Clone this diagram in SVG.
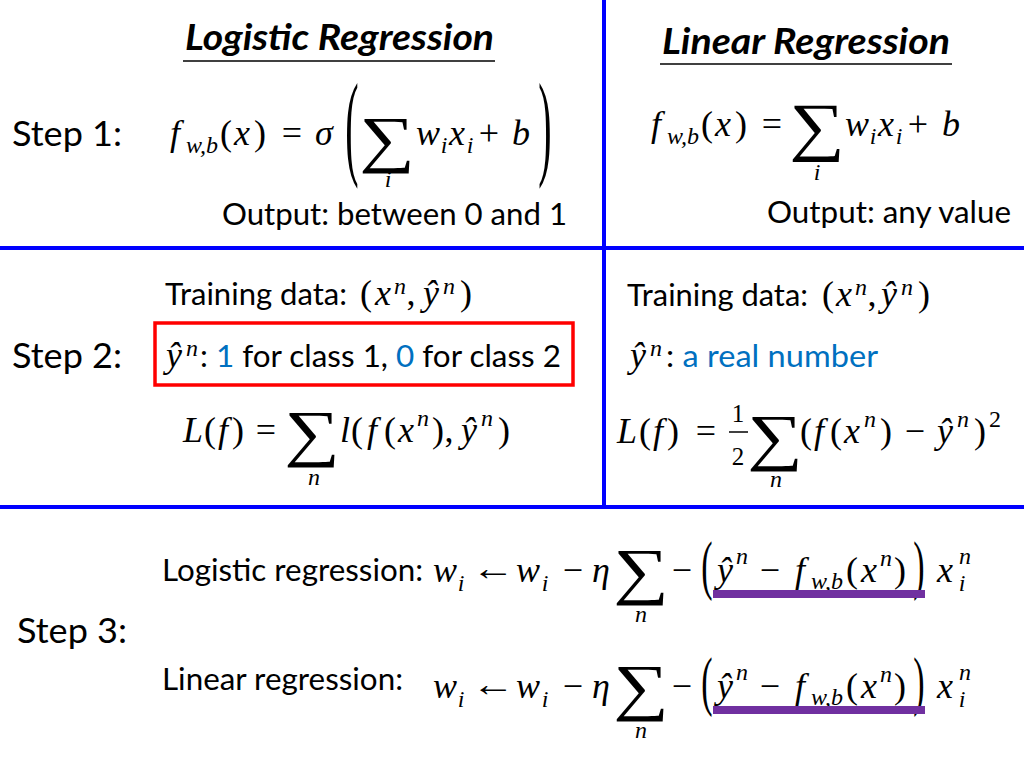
<svg xmlns="http://www.w3.org/2000/svg" width="1024" height="768" viewBox="0 0 1024 768">
<style>
.txt{font-family:Lato,"Liberation Sans",sans-serif;font-size:30px;fill:#000}
.step{font-size:34px}
.title{font-weight:bold;font-style:italic;font-size:36px}
.mi{font-family:"Liberation Serif","DejaVu Serif",serif;font-style:italic;font-size:36px;fill:#000;text-anchor:middle}
.mo{font-family:"Liberation Serif","DejaVu Serif",serif;font-size:36px;fill:#000;text-anchor:middle}
.ar{font-family:"Liberation Sans","DejaVu Sans",sans-serif;font-size:32px;fill:#000;text-anchor:middle}
.sb{font-size:24px}
.fr{font-size:25px}
.sum{font-family:"Liberation Serif","DejaVu Serif",serif;font-size:60px;text-anchor:middle;fill:#000}
.big{font-family:"Liberation Serif","DejaVu Serif",serif;font-size:40px;fill:#000;text-anchor:middle}
.bigs{font-family:"Liberation Serif","DejaVu Serif",serif;font-size:34px;fill:#000;text-anchor:middle}
.blue{fill:#0070C0}
.grid{stroke:#0000FF;stroke-width:4}
.ul{stroke:#000;stroke-width:1.5}
.bar{fill:#7030A0}
</style>
<rect width="1024" height="768" fill="#fff"/>
<g id="grid">
<line class="grid" x1="604" y1="0" x2="604" y2="509"/>
<line class="grid" x1="0" y1="248" x2="1024" y2="248"/>
<line class="grid" x1="0" y1="507" x2="1024" y2="507"/>
</g>
<g id="headers">
<text class="txt title" x="185" y="50" textLength="309" lengthAdjust="spacingAndGlyphs">Logistic Regression</text>
<line class="ul" x1="183" y1="61" x2="495" y2="61"/>
<text class="txt title" x="662" y="54" textLength="288" lengthAdjust="spacingAndGlyphs">Linear Regression</text>
<line class="ul" x1="660" y1="64" x2="952" y2="64"/>
</g>
<g id="steps">
<text class="txt step" x="12" y="146" textLength="110" lengthAdjust="spacingAndGlyphs">Step 1:</text>
<text class="txt step" x="12" y="368" textLength="110" lengthAdjust="spacingAndGlyphs">Step 2:</text>
<text class="txt step" x="17" y="643" textLength="110" lengthAdjust="spacingAndGlyphs">Step 3:</text>
</g>
<g id="step1-logistic">
<text class="mi" x="175" y="145">f</text>
<text class="mi sb" x="202" y="153">w,b</text>
<text class="mo" x="226" y="145">(</text>
<text class="mi" x="242" y="145">x</text>
<text class="mo" x="260" y="145">)</text>
<text class="mo" x="292" y="145">=</text>
<text class="mi" x="324" y="145">σ</text>
<text class="big" transform="translate(352,164) scale(1,2.93)">(</text>
<text class="sum" transform="translate(387,160) scale(1.3,1.05)">∑</text>
<text class="mi sb" x="388" y="187">i</text>
<text class="mi" x="428" y="145">w</text>
<text class="mi sb" x="444" y="153">i</text>
<text class="mi" x="457" y="145">x</text>
<text class="mi sb" x="470" y="153">i</text>
<text class="mo" x="489" y="145">+</text>
<text class="mi" x="521" y="145">b</text>
<text class="big" transform="translate(545,164) scale(1,2.93)">)</text>
<text class="txt" x="222" y="225" textLength="345" lengthAdjust="spacingAndGlyphs">Output: between 0 and 1</text>
</g>
<g id="step1-linear">
<text class="mi" x="656" y="136">f</text>
<text class="mi sb" x="683" y="144">w,b</text>
<text class="mo" x="707" y="136">(</text>
<text class="mi" x="723" y="136">x</text>
<text class="mo" x="741" y="136">)</text>
<text class="mo" x="772" y="136">=</text>
<text class="sum" transform="translate(817,148) scale(1.3,1.08)">∑</text>
<text class="mi sb" x="817" y="180">i</text>
<text class="mi" x="857" y="136">w</text>
<text class="mi sb" x="873" y="144">i</text>
<text class="mi" x="886" y="136">x</text>
<text class="mi sb" x="899" y="144">i</text>
<text class="mo" x="918" y="136">+</text>
<text class="mi" x="951" y="136">b</text>
<text class="txt" x="767" y="223" textLength="244" lengthAdjust="spacingAndGlyphs">Output: any value</text>
</g>
<g id="step2-logistic">
<text class="txt" x="165" y="305" textLength="182" lengthAdjust="spacingAndGlyphs">Training data:</text>
<text class="mo" x="366" y="305">(</text>
<text class="mi" x="383" y="305">x</text>
<text class="mi sb" x="400" y="294">n</text>
<text class="mo" x="411" y="305">,</text>
<text class="mi" x="431" y="305">ŷ</text>
<text class="mi sb" x="449" y="294">n</text>
<text class="mo" x="466" y="305">)</text>
<rect x="155" y="323" width="418" height="62" fill="none" stroke="#FF0000" stroke-width="3.5"/>
<text class="mi" x="174" y="367">ŷ</text>
<text class="mi sb" x="192" y="356">n</text>
<text class="txt" x="200" y="367" textLength="361" lengthAdjust="spacingAndGlyphs">: <tspan class="blue">1</tspan> for class 1, <tspan class="blue">0</tspan> for class 2</text>
<text class="mi" x="193" y="442">L</text>
<text class="mo" x="210" y="442">(</text>
<text class="mi" x="223" y="442">f</text>
<text class="mo" x="238" y="442">)</text>
<text class="mo" x="266" y="442">=</text>
<text class="sum" transform="translate(312,454) scale(1.3,1.05)">∑</text>
<text class="mi sb" x="314" y="485">n</text>
<text class="mi" x="345" y="442">l</text>
<text class="mo" x="357" y="442">(</text>
<text class="mi" x="372" y="442">f</text>
<text class="mo" x="390" y="442">(</text>
<text class="mi" x="406" y="442">x</text>
<text class="mi sb" x="423" y="426">n</text>
<text class="mo" x="438" y="442">)</text>
<text class="mo" x="449" y="442">,</text>
<text class="mi" x="469" y="442">ŷ</text>
<text class="mi sb" x="487" y="426">n</text>
<text class="mo" x="504" y="442">)</text>
</g>
<g id="step2-linear">
<text class="txt" x="627" y="306" textLength="181" lengthAdjust="spacingAndGlyphs">Training data:</text>
<text class="mo" x="828" y="306">(</text>
<text class="mi" x="844" y="306">x</text>
<text class="mi sb" x="861" y="295">n</text>
<text class="mo" x="872" y="306">,</text>
<text class="mi" x="889" y="306">ŷ</text>
<text class="mi sb" x="907" y="295">n</text>
<text class="mo" x="924" y="306">)</text>
<text class="mi" x="638" y="367">ŷ</text>
<text class="mi sb" x="656" y="356">n</text>
<text class="txt" x="666" y="367" textLength="212" lengthAdjust="spacingAndGlyphs">:<tspan class="blue"> a real number</tspan></text>
<text class="mi" x="627" y="443">L</text>
<text class="mo" x="645" y="443">(</text>
<text class="mi" x="658" y="443">f</text>
<text class="mo" x="673" y="443">)</text>
<text class="mo" x="706" y="443">=</text>
<text class="mo fr" x="738" y="422">1</text>
<line class="ul" x1="729" y1="432" x2="748" y2="432"/>
<text class="mo fr" x="738" y="465">2</text>
<text class="sum" transform="translate(775,458) scale(1.3,1.05)">∑</text>
<text class="mi sb" x="776" y="487">n</text>
<text class="mo" x="806" y="443">(</text>
<text class="mi" x="819" y="443">f</text>
<text class="mo" x="836" y="443">(</text>
<text class="mi" x="852" y="443">x</text>
<text class="mi sb" x="870" y="427">n</text>
<text class="mo" x="886" y="443">)</text>
<text class="mo" x="915" y="443">−</text>
<text class="mi" x="945" y="443">ŷ</text>
<text class="mi sb" x="963" y="427">n</text>
<text class="mo" x="980" y="443">)</text>
<text class="mo sb" x="995" y="427">2</text>
</g>
<g id="step3-logistic">
<text class="txt" x="162" y="581" textLength="261" lengthAdjust="spacingAndGlyphs">Logistic regression:</text>
<text class="mi" x="445" y="582">w</text>
<text class="mi sb" x="461" y="591">i</text>
<text class="ar" transform="translate(493,580) scale(1.35,1.1)">←</text>
<text class="mi" x="528" y="582">w</text>
<text class="mi sb" x="545" y="591">i</text>
<text class="mo" x="573" y="582">−</text>
<text class="mi" x="601" y="582">η</text>
<text class="sum" transform="translate(641,592) scale(1.3,1.05)">∑</text>
<text class="mi sb" x="641" y="622">n</text>
<text class="mo" x="682" y="582">−</text>
<text class="bigs" transform="translate(707,587) scale(1,1.9)">(</text>
<text class="mi" x="725" y="582">ŷ</text>
<text class="mi sb" x="742" y="564">n</text>
<text class="mo" x="770" y="582">−</text>
<text class="mi" x="800" y="582">f</text>
<text class="mi sb" x="827" y="589">w,b</text>
<text class="mo" x="852" y="582">(</text>
<text class="mi" x="869" y="582">x</text>
<text class="mi sb" x="886" y="566">n</text>
<text class="mo" x="900" y="582">)</text>
<text class="bigs" transform="translate(919,587) scale(1,1.9)">)</text>
<text class="mi" x="945" y="582">x</text>
<text class="mi sb" x="965" y="564">n</text>
<text class="mi sb" x="962" y="591">i</text>
<rect class="bar" x="713" y="590" width="212" height="8"/>
</g>
<g id="step3-linear">
<text class="txt" x="162" y="690" textLength="241" lengthAdjust="spacingAndGlyphs">Linear regression:</text>
<text class="mi" x="445" y="698">w</text>
<text class="mi sb" x="461" y="707">i</text>
<text class="ar" transform="translate(493,696) scale(1.35,1.1)">←</text>
<text class="mi" x="528" y="698">w</text>
<text class="mi sb" x="545" y="707">i</text>
<text class="mo" x="573" y="698">−</text>
<text class="mi" x="601" y="698">η</text>
<text class="sum" transform="translate(641,708) scale(1.3,1.05)">∑</text>
<text class="mi sb" x="641" y="738">n</text>
<text class="mo" x="682" y="698">−</text>
<text class="bigs" transform="translate(707,703) scale(1,1.9)">(</text>
<text class="mi" x="725" y="698">ŷ</text>
<text class="mi sb" x="742" y="680">n</text>
<text class="mo" x="770" y="698">−</text>
<text class="mi" x="800" y="698">f</text>
<text class="mi sb" x="827" y="705">w,b</text>
<text class="mo" x="852" y="698">(</text>
<text class="mi" x="869" y="698">x</text>
<text class="mi sb" x="886" y="682">n</text>
<text class="mo" x="900" y="698">)</text>
<text class="bigs" transform="translate(919,703) scale(1,1.9)">)</text>
<text class="mi" x="945" y="698">x</text>
<text class="mi sb" x="965" y="680">n</text>
<text class="mi sb" x="962" y="707">i</text>
<rect class="bar" x="713" y="706" width="212" height="8"/>
</g>
</svg>
